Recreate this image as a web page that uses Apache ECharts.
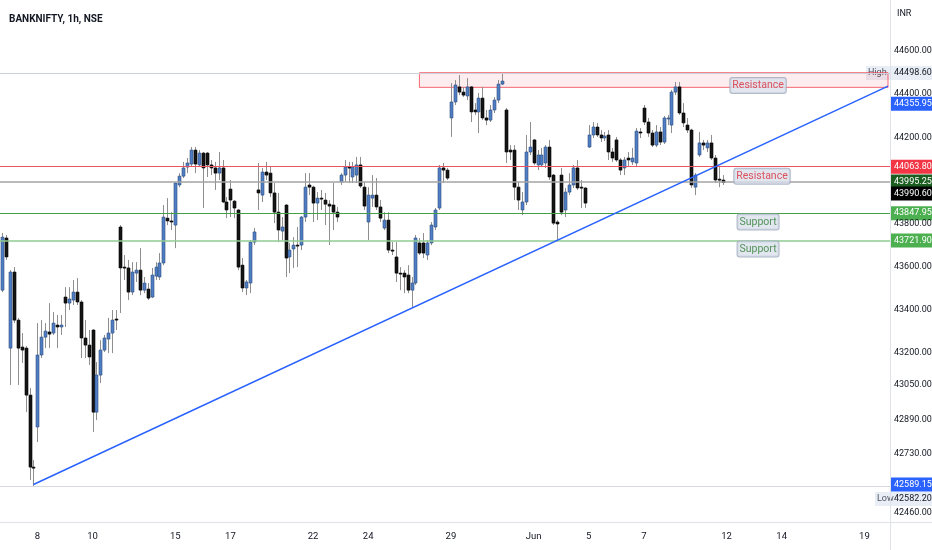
<!DOCTYPE html>
<html>
<head>
<meta charset="utf-8">
<title>BANKNIFTY, 1h, NSE</title>
<script src="https://cdn.jsdelivr.net/npm/echarts@6/dist/echarts.min.js"></script>
<style>
  html, body { margin: 0; padding: 0; background: #fff; }
  #chart { width: 932px; height: 550px; }
</style>
</head>
<body>
<div id="chart"></div>
<script>
// sessions on the chart, first one only shows its last 2 hours
const tradingDays = ['2023-05-04', '2023-05-05', '2023-05-08', '2023-05-09', '2023-05-10', '2023-05-11', '2023-05-12',
    '2023-05-15', '2023-05-16', '2023-05-17', '2023-05-18', '2023-05-19', '2023-05-22', '2023-05-23', '2023-05-24',
    '2023-05-25', '2023-05-26', '2023-05-29', '2023-05-30', '2023-05-31', '2023-06-01', '2023-06-02', '2023-06-05',
    '2023-06-06', '2023-06-07', '2023-06-08', '2023-06-09'];
const futureDays = ['2023-06-12', '2023-06-13', '2023-06-14', '2023-06-15', '2023-06-16', '2023-06-19'];
const sessionHours = ['09:15', '10:15', '11:15', '12:15', '13:15', '14:15', '15:15'];
const xLabelDays = ['2023-05-08', '2023-05-10', '2023-05-15', '2023-05-17', '2023-05-22', '2023-05-24', '2023-05-29',
    '2023-06-01', '2023-06-05', '2023-06-07', '2023-06-12', '2023-06-14', '2023-06-19'];

// hourly OHLC, one row per session
const open = [
    43491, 43733,
    43222, 43575, 43352, 43227, 43222, 43004, 42670,
    42856, 43190, 43273, 43297, 43292, 43329, 43320,
    43459, 43431, 43445, 43482, 43436, 43269, 43236,
    43306, 42925, 43097, 43213, 43264, 43292, 43357,
    43784, 43598, 43594, 43482, 43570, 43584, 43491,
    43496, 43459, 43556, 43552, 43617, 43825, 43812,
    43793, 43979, 44020, 44062, 44076, 44141, 44072,
    44127, 44127, 44072, 44058, 44034, 44058, 43900,
    43960, 43904, 43863, 43607, 43501, 43524, 43714,
    43956, 43932, 44039, 44034, 43942, 43853, 43765,
    43886, 43645, 43682, 43700, 43700, 43830, 43979,
    43969, 43895, 43918, 43909, 43890, 43886, 43853,
    43993, 44025, 44062, 44016, 44025, 44072, 43969,
    43807, 43918, 43932, 43877, 43779, 43816, 43677,
    43645, 43570, 43570, 43561, 43491, 43524, 43710,
    43710, 43654, 43710, 43784, 43872, 44058, 44048,
    44290, 44364, 44434, 44410, 44392, 44434, 44327,
    44318, 44382, 44290, 44280, 44327, 44373, 44447,
    44327, 44141, 44141, 43969, 43863, 43900, 44132,
    44188, 44072, 44072, 44081, 44155, 44025, 43807,
    44025, 43863, 43946, 43979, 44058, 43969, 43965,
    44155, 44211, 44248, 44211, 44197, 44211, 44132,
    44188, 44095, 44058, 44104, 44086, 44081, 44225,
    44336, 44271, 44220, 44164, 44225, 44178, 44285,
    44257, 44410, 44434, 44313, 44257, 44234, 43969,
    44118, 44174, 44151, 44174, 44104, 44006, 44002
];
const close = [
    43737, 43645,
    43575, 43352, 43222, 43213, 43004, 42670, 42665,
    43190, 43273, 43301, 43287, 43338, 43320, 43329,
    43431, 43450, 43482, 43436, 43269, 43236, 43181,
    42925, 43097, 43213, 43269, 43292, 43352, 43352,
    43594, 43594, 43482, 43575, 43584, 43491, 43524,
    43454, 43561, 43598, 43617, 43830, 43812, 43807,
    43988, 44020, 44058, 44081, 44141, 44076, 44127,
    44058, 44072, 44058, 44034, 44058, 43900, 43863,
    43909, 43872, 43598, 43501, 43529, 43714, 43761,
    43942, 44039, 44025, 43942, 43853, 43770, 43784,
    43640, 43677, 43700, 43696, 43830, 43969, 43969,
    43895, 43918, 43914, 43890, 43881, 43853, 43830,
    44025, 44062, 44058, 44062, 44072, 43974, 43881,
    43932, 43932, 43877, 43825, 43816, 43677, 43672,
    43570, 43566, 43552, 43491, 43524, 43733, 43663,
    43663, 43710, 43793, 43863, 44058, 44048, 44011,
    44364, 44443, 44410, 44396, 44434, 44318, 44318,
    44382, 44290, 44280, 44327, 44373, 44447, 44461,
    44132, 44132, 43969, 43909, 43900, 44132, 44155,
    44081, 44118, 44118, 44155, 44016, 43802, 43798,
    43853, 43946, 43979, 44058, 43965, 43965, 43895,
    44211, 44248, 44211, 44197, 44206, 44132, 44104,
    44095, 44048, 44095, 44095, 44104, 44229, 44220,
    44271, 44220, 44164, 44225, 44178, 44290, 44290,
    44410, 44434, 44313, 44267, 44234, 43979, 44025,
    44174, 44164, 44174, 44104, 44002, 44002, 43990.6
];
const low = [
    43482, 43631,
    43051, 43338, 43051, 43153, 42925, 42610, 42582.2,
    42786, 43176, 43222, 43222, 43283, 43222, 43283,
    43320, 43399, 43422, 43422, 43176, 43176, 43144,
    42833, 42888, 43060, 43204, 43199, 43199, 43306,
    43385, 43538, 43445, 43468, 43529, 43468, 43477,
    43445, 43454, 43538, 43538, 43607, 43793, 43770,
    43686, 43969, 44011, 44034, 44067, 44034, 44062,
    43872, 44016, 44025, 43956, 44002, 43895, 43825,
    43830, 43825, 43584, 43482, 43468, 43477, 43700,
    43863, 43900, 44002, 43923, 43802, 43714, 43723,
    43552, 43570, 43594, 43598, 43677, 43807, 43932,
    43807, 43816, 43863, 43793, 43700, 43770, 43807,
    43979, 43993, 43988, 43988, 43988, 43965, 43863,
    43723, 43877, 43863, 43807, 43770, 43663, 43654,
    43529, 43491, 43477, 43477, 43413, 43515, 43654,
    43640, 43631, 43700, 43770, 43863, 43988, 44002,
    44202, 44350, 44396, 44387, 44373, 44271, 44304,
    44220, 44280, 44257, 44271, 44313, 44359, 44443,
    44081, 44095, 43909, 43863, 43839, 43886, 44118,
    44072, 44048, 44062, 44058, 44002, 43793, 43723,
    43839, 43830, 43932, 43965, 43956, 43872, 43872,
    44151, 44197, 44202, 44178, 44183, 44095, 44086,
    44086, 44025, 44025, 44062, 44072, 44062, 44197,
    44257, 44202, 44155, 44155, 44164, 44169, 44257,
    44220, 44396, 44304, 44248, 44220, 43965, 43932,
    44109, 44141, 44132, 44095, 43988, 43969, 43979
];
const high = [
    43756, 43747,
    43584, 43598, 43362, 43292, 43232, 43037, 42703,
    43338, 43352, 43338, 43431, 43389, 43376, 43376,
    43505, 43505, 43538, 43547, 43445, 43352, 43306,
    43310, 43157, 43259, 43283, 43362, 43399, 43399,
    43793, 43654, 43631, 43621, 43621, 43686, 43552,
    43524, 43594, 43621, 43663, 43886, 43918, 43853,
    43993, 44034, 44086, 44104, 44155, 44155, 44141,
    44132, 44132, 44095, 44086, 44132, 44095, 43923,
    44002, 43909, 43867, 43640, 43538, 43723, 43779,
    44081, 44058, 44086, 44062, 43988, 43942, 43830,
    43890, 43710, 43737, 43784, 43835, 44034, 44034,
    43975, 43946, 43956, 43942, 43909, 43988, 43877,
    44034, 44095, 44086, 44086, 44109, 44109, 43993,
    43969, 44025, 44011, 43909, 43853, 43853, 43714,
    43714, 43598, 43584, 43607, 43552, 43747, 43733,
    43756, 43723, 43807, 43872, 44072, 44081, 44058,
    44452, 44466, 44489, 44434, 44475, 44438, 44359,
    44406, 44434, 44327, 44350, 44387, 44466, 44498.6,
    44336, 44164, 44164, 43993, 43946, 44211, 44271,
    44192, 44141, 44151, 44164, 44188, 44030, 43816,
    44058, 43965, 44034, 44072, 44095, 44002, 43969,
    44257, 44271, 44267, 44234, 44225, 44234, 44151,
    44202, 44104, 44109, 44132, 44151, 44243, 44243,
    44350, 44290, 44234, 44257, 44248, 44299, 44304,
    44420, 44457, 44457, 44359, 44290, 44240, 44034,
    44225, 44188, 44188, 44211, 44118, 44062, 44025
];

// price scale labels
const yTickValues = [44600, 44400, 44200, 43800, 43600, 43400, 43200, 43050, 42890, 42730, 42460];

// drawings
const levelValues = [44498.6, 44063.8, 43995.25, 43847.95, 43721.9, 42582.2];
const levelColors = ['#cdd1d9', '#ef5360', '#a3a3a3', '#43a047', '#8fcb91', '#d6d9df'];
const levelWidths = [1.2, 1, 1.5, 1.2, 1.5, 1];
const zoneCats = [106, 225];
const zonePrices = [44500, 44432];
const trendCats = [8, 225];
const trendPrices = [42589.15, 44438];
const noteText = ['Resistance', 'Resistance', 'Support', 'Support'];
const noteCats = [192, 193, 192, 192];
const notePrices = [44440, 44020, 43807, 43682];
const noteColors = ['#d92b38', '#d92b38', '#2e7d32', '#2e7d32'];

// price tags on the right scale
const tagValues = [44498.6, 44355.95, 44063.8, 43995.25, 43990.6, 43847.95, 43721.9, 42589.15, 42582.2];
const tagBg = ['#e8edf6', '#2962ff', '#f23645', '#1b5e20', '#000000', '#4caf50', '#4caf50', '#2962ff', '#e8edf6'];
const tagFg = ['#131722', '#ffffff', '#ffffff', '#ffffff', '#ffffff', '#ffffff', '#ffffff', '#ffffff', '#131722'];
const tagShift = [0, 0, 0, 0, 11, 0, 0, 0, 13];

const FONT = 'Roboto';

const categories = [];
tradingDays.concat(futureDays).forEach((d, k) => {
    const hours = k === 0 ? sessionHours.slice(5) : sessionHours;
    hours.forEach(h => categories.push(d + ' ' + h));
});

const candleData = open.map((o, i) => [i, o, close[i], low[i], high[i]]);

// wick + body drawn through the axes
function renderCandle(params, api) {
    const i = api.value(0);
    const o = api.value(1), c = api.value(2), l = api.value(3), h = api.value(4);
    const pO = api.coord([i, o]), pC = api.coord([i, c]);
    const yL = api.coord([i, l])[1], yH = api.coord([i, h])[1];
    const x = Math.round(pO[0]);
    const up = c >= o;
    const top = Math.min(pO[1], pC[1]);
    const bh = Math.max(1, Math.abs(pO[1] - pC[1]));
    return {
        type: 'group',
        children: [
            { type: 'line', shape: { x1: x + 0.5, y1: yH, x2: x + 0.5, y2: yL }, style: { stroke: '#8e8e8e', lineWidth: 1 } },
            {
                type: 'rect', shape: { x: x - 1, y: top, width: 3, height: bh },
                style: { fill: up ? '#4f7ec2' : '#151515', stroke: up ? '#2f4f82' : '#000000', lineWidth: 0.6 }
            }
        ]
    };
}

const chart = echarts.init(document.getElementById('chart'));
const axisX = 890;

chart.setOption({
    animation: false,
    backgroundColor: '#ffffff',
    title: {
        text: 'BANKNIFTY, 1h, NSE', left: 4, top: 9,
        textStyle: { fontFamily: FONT, fontSize: 10, fontWeight: 'bold', color: '#131722' }
    },
    grid: { left: 0, right: 932 - axisX, top: 0, bottom: 28, outerBoundsMode: 'none', containLabel: false },
    xAxis: {
        type: 'category',
        data: categories,
        axisLine: { lineStyle: { color: '#dfe2e8' } },
        axisTick: { show: false },
        splitLine: { show: false },
        axisLabel: {
            margin: 10, fontSize: 9.5, fontFamily: FONT, color: '#131722',
            interval: (idx, val) => val.endsWith('09:15') && xLabelDays.includes(val.slice(0, 10)),
            formatter: (val) => val.slice(0, 10) === '2023-06-01' ? 'Jun' : String(Number(val.slice(8, 10)))
        }
    },
    yAxis: {
        type: 'value',
        position: 'right',
        scale: true,
        min: 42415.2,
        max: 44837.3,
        axisLine: { show: true, lineStyle: { color: '#dfe2e8' } },
        axisTick: { show: false },
        splitLine: { show: false },
        axisLabel: {
            customValues: yTickValues,
            margin: 4, fontSize: 9, fontFamily: FONT, color: '#131722',
            formatter: (v) => v.toFixed(2)
        }
    },
    series: [
        {
            name: 'BANKNIFTY',
            type: 'custom',
            renderItem: renderCandle,
            encode: { x: 0, y: [1, 2, 3, 4] },
            data: candleData,
            z: 3,
            markLine: {
                silent: true, symbol: 'none', label: { show: false },
                data: levelValues.map((v, k) => ({
                    yAxis: v, lineStyle: { color: levelColors[k], width: levelWidths[k], type: 'solid' }
                })).concat([[
                    { coord: [trendCats[0], trendPrices[0]], lineStyle: { color: '#2962ff', width: 1.5, type: 'solid' } },
                    { coord: [trendCats[1], trendPrices[1]] }
                ]])
            },
            markArea: {
                silent: true,
                itemStyle: { color: 'rgba(242,54,69,0.09)', borderColor: 'rgba(242,54,69,0.75)', borderWidth: 1 },
                data: [[{ coord: [zoneCats[0], zonePrices[0]] }, { coord: [zoneCats[1], zonePrices[1]] }]]
            }
        },
        {
            name: 'notes',
            type: 'scatter',
            symbolSize: 1,
            z: 5,
            itemStyle: { color: 'rgba(0,0,0,0)' },
            data: noteText.map((t, k) => ({
                name: t,
                value: [noteCats[k], notePrices[k]],
                label: { color: noteColors[k] }
            })),
            label: {
                show: true, position: 'inside', formatter: '{b}',
                fontSize: 10.5, fontFamily: FONT,
                backgroundColor: '#d9e0eb', borderColor: '#9ea9ba', borderWidth: 1, borderRadius: 2,
                padding: [2, 2]
            }
        }
    ]
});

// price tags drawn at the y positions of the scale
const tagFont = '9px ' + FONT;
const tags = [];
tagValues.forEach((v, k) => {
    const y = chart.convertToPixel({ yAxisIndex: 0 }, v) + tagShift[k];
    tags.push({
        type: 'group', x: axisX + 1, y: y - 7, z: 100,
        children: [
            { type: 'rect', shape: { x: 0, y: 0, width: 42, height: 14 }, style: { fill: tagBg[k] } },
            { type: 'text', x: 3, y: 7, style: { text: v.toFixed(2), fill: tagFg[k], font: tagFont, verticalAlign: 'middle' } }
        ]
    });
});
const sideTags = [['High', 0, 24], ['Low', 8, 15]];
sideTags.forEach(([txt, k, w]) => {
    const y = chart.convertToPixel({ yAxisIndex: 0 }, tagValues[k]) + tagShift[k];
    tags.push({
        type: 'group', x: axisX - w, y: y - 7, z: 100,
        children: [
            { type: 'rect', shape: { x: 0, y: 0, width: w, height: 14 }, style: { fill: '#e8edf6' } },
            { type: 'text', x: 2, y: 7, style: { text: txt, fill: '#50535e', font: tagFont, verticalAlign: 'middle' } }
        ]
    });
});
tags.push({ type: 'text', x: 897, y: 9, z: 100, style: { text: 'INR', fill: '#131722', font: tagFont } });
tags.push({ type: 'line', z: 100, shape: { x1: axisX + 0.5, y1: 522, x2: axisX + 0.5, y2: 550 }, style: { stroke: '#dfe2e8', lineWidth: 1 } });
tags.push({ type: 'line', z: 100, shape: { x1: axisX, y1: 522.5, x2: 932, y2: 522.5 }, style: { stroke: '#dfe2e8', lineWidth: 1 } });
chart.setOption({ graphic: tags });
</script>
</body>
</html>
